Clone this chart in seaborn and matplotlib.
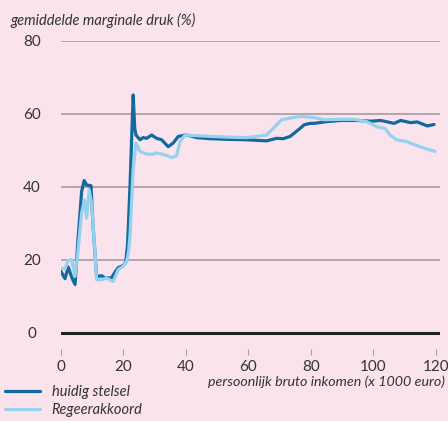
import numpy as np
import pandas as pd
import matplotlib
matplotlib.use('Agg')
import matplotlib.pyplot as plt
import seaborn as sns

# data
huidig_x = [0, 0.6, 1.3, 2.3, 3.5, 4.5, 5.4, 6.6, 7.4, 8.2, 9.6, 10.2, 11.4, 13, 14.1,
            16.2, 17.2, 18.3, 19.9, 20.7, 21.3, 22.1, 23.1, 23.6, 24, 25.3, 26.3, 27.4,
            29, 30.6, 32.2, 34.3, 35.9, 37.5, 39.7, 41.3, 43.4, 47.7, 54.1, 59.4, 65.8,
            69, 71.1, 73.3, 74.6, 76.5, 77.8, 79.7, 81, 85.2, 89.5, 94.8, 99.1, 102.3,
            104.5, 106.6, 108.7, 111.9, 114, 117.2, 119.4]
huidig_y = [16.8, 15.8, 14.8, 18.0, 15.0, 13.2, 25.0, 38.7, 41.7, 40.5, 40.3, 30.0, 15.4,
            15.6, 15.0, 15.0, 16.5, 17.8, 18.4, 19.2, 24.0, 40.5, 65.2, 56.0, 54.2, 52.9,
            53.5, 53.3, 54.2, 53.3, 52.9, 51.0, 52.0, 53.8, 54.2, 54.0, 53.5, 53.2, 53.0,
            52.9, 52.6, 53.3, 53.2, 53.8, 54.7, 56.0, 57.0, 57.4, 57.4, 57.9, 58.2, 58.2,
            58.0, 58.2, 57.8, 57.4, 58.2, 57.6, 57.8, 56.7, 57.1]

regeer_x = [0, 1.3, 2.3, 3.4, 4.5, 5.4, 6.6, 7.5, 8.2, 9.0, 9.8, 10.9, 11.4, 13, 14.5,
            16.7, 18.3, 19.9, 21, 21.6, 22.1, 23.1, 24, 25.3, 27.4, 29.5, 30.5, 32.2,
            33.8, 35.4, 37, 38.1, 39.7, 43.4, 48.7, 54, 59.4, 65.8, 67.9, 70.6, 74.3,
            76.7, 81, 84.2, 89.5, 93.8, 97.8, 101, 103.7, 105.3, 107.4, 110.6, 112.7,
            114.9, 117, 119.7]
regeer_y = [17.7, 17.5, 19.8, 20.0, 15.4, 22.0, 32.8, 36.4, 31.4, 39.2, 35.5, 21.8, 14.5,
            14.5, 15.0, 14.0, 17.3, 18.2, 19.5, 22.0, 26.8, 45.0, 52.0, 49.7, 49.0, 48.9,
            49.3, 49.0, 48.6, 48.0, 48.5, 52.4, 54.2, 54.0, 53.8, 53.6, 53.5, 54.2, 56.0,
            58.4, 59.0, 59.3, 59.0, 58.4, 58.5, 58.5, 57.9, 56.5, 56.0, 54.2, 52.9, 52.4,
            51.7, 51.0, 50.4, 49.7]

series = ['huidig stelsel', 'Regeerakkoord']
x_ticks = [0, 20, 40, 60, 80, 100, 120]
y_ticks = [0, 20, 40, 60, 80]

df = pd.concat([
    pd.DataFrame({'inkomen': huidig_x, 'druk': huidig_y, 'variant': series[0]}),
    pd.DataFrame({'inkomen': regeer_x, 'druk': regeer_y, 'variant': series[1]}),
])

bg = '#fae3ed'
dark = '#12699e'
light = '#95d2ef'

sns.set_style('white')
plt.rcParams['font.family'] = ['Lato', 'DejaVu Sans']

fig = plt.figure(figsize=(4.48, 4.21), dpi=100, facecolor=bg)
ax = fig.add_axes([61 / 448, (421 - 349) / 421, (440 - 61) / 448, (349 - 41) / 421])
ax.set_facecolor(bg)

for y in y_ticks[1:]:
    ax.axhline(y, color='#a59ca1', lw=1.2, zorder=1)
ax.axhline(0, color='#222222', lw=2.2, zorder=3)

sns.lineplot(data=df, x='inkomen', y='druk', hue='variant',
             hue_order=series[::-1], palette={series[0]: dark, series[1]: light},
             linewidth=2.3, estimator=None, sort=False, ax=ax, legend=False, zorder=2)
# dark line on top
ax.lines[-2].set_zorder(2.5)

ax.set_xlim(0, 121.3)
ax.set_ylim(-4.5, 80)
ax.set_xticks(x_ticks)
ax.set_yticks(y_ticks)
for s in ax.spines.values():
    s.set_visible(False)
ax.tick_params(axis='x', length=4, width=0.8, color='#a59ca1', pad=4,
               labelsize=11, labelcolor='#333333', direction='out', bottom=True)
ax.tick_params(axis='y', length=0, pad=21, labelsize=11, labelcolor='#333333')
for lab in ax.get_yticklabels():
    lab.set_horizontalalignment('center')
ax.set_xlabel('')
ax.set_ylabel('')

fig.text(10 / 448, 1 - 20 / 421, 'gemiddelde marginale druk (%)', style='italic',
         fontsize=10.5, color='#333333', va='center', ha='left')
fig.text(445 / 448, 1 - 382 / 421, 'persoonlijk bruto inkomen (x 1000 euro)',
         style='italic', fontsize=10.3, color='#333333', va='center', ha='right')

handles = [plt.Line2D([], [], color=dark, lw=2.3), plt.Line2D([], [], color=light, lw=2.3)]
leg = fig.legend(handles, series, loc='center left', bbox_to_anchor=(5 / 448, 1 - 401 / 421),
                 frameon=False, borderpad=0, borderaxespad=0, handlelength=2.4,
                 handletextpad=0.8, labelspacing=0.25, prop={'style': 'italic', 'size': 10.5})
for t in leg.get_texts():
    t.set_color('#333333')

fig.savefig('out.png', dpi=100, facecolor=bg)
